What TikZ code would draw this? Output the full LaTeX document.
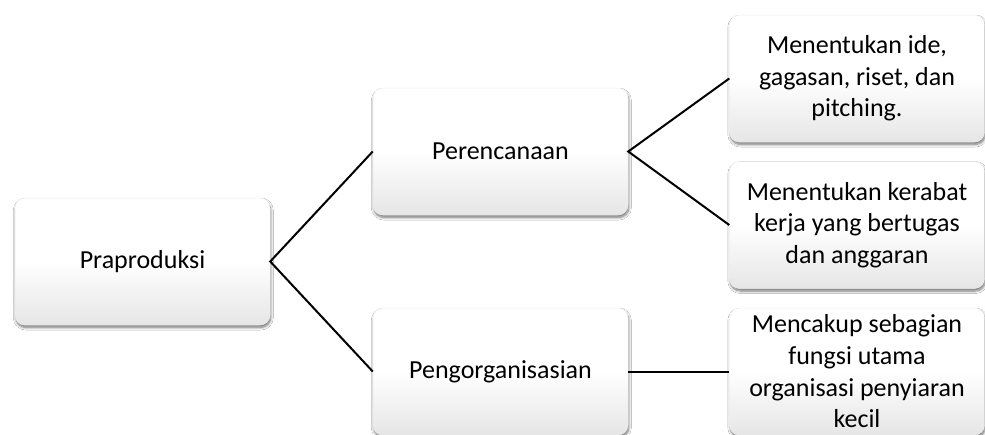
\documentclass[tikz,border=0pt]{standalone}
\usepackage{fontspec}
\setmainfont{Carlito}
\usetikzlibrary{shadows.blur}

\tikzset{
  card/.style={
    rounded corners=10pt,
    minimum width=255pt, minimum height=127pt,
    inner sep=0pt, align=center,
    font=\fontsize{26}{31.7}\selectfont,
    top color=white, bottom color=black!10, middle color=white,
    draw=black!7, line width=0.5pt,
    blur shadow={shadow xshift=0.8pt, shadow yshift=-2.5pt,
                 shadow blur radius=2.5pt, shadow blur steps=8,
                 shadow opacity=55}
  },
  link/.style={draw=black, line width=2pt}
}

\begin{document}
\begin{tikzpicture}[x=1pt, y=-1pt]
  \useasboundingbox[fill=white] (0,0) rectangle (985,434);

  % root
  \node[card] (pra) at (142.5,261.5) {Praproduksi};

  % second level
  \node[card] (per)  at (500.5,151.5) {Perencanaan};
  \node[card] (peng) at (500.5,371.5) {Pengorganisasian};

  % third level
  \node[card] (r1) at (857,78.5)  {Menentukan ide,\\gagasan, riset, dan\\pitching.};
  \node[card] (r2) at (857,225)   {Menentukan kerabat\\kerja yang bertugas\\dan anggaran};
  \node[card] (r3) at (857,371.5) {Mencakup sebagian\\fungsi utama\\organisasi penyiaran\\kecil};

  % connectors
  \draw[link] (per.west) -- (pra.east) -- (peng.west);
  \draw[link] (r1.west) -- (per.east) -- (r2.west);
  \draw[link] (peng.east) -- (r3.west);
\end{tikzpicture}
\end{document}
